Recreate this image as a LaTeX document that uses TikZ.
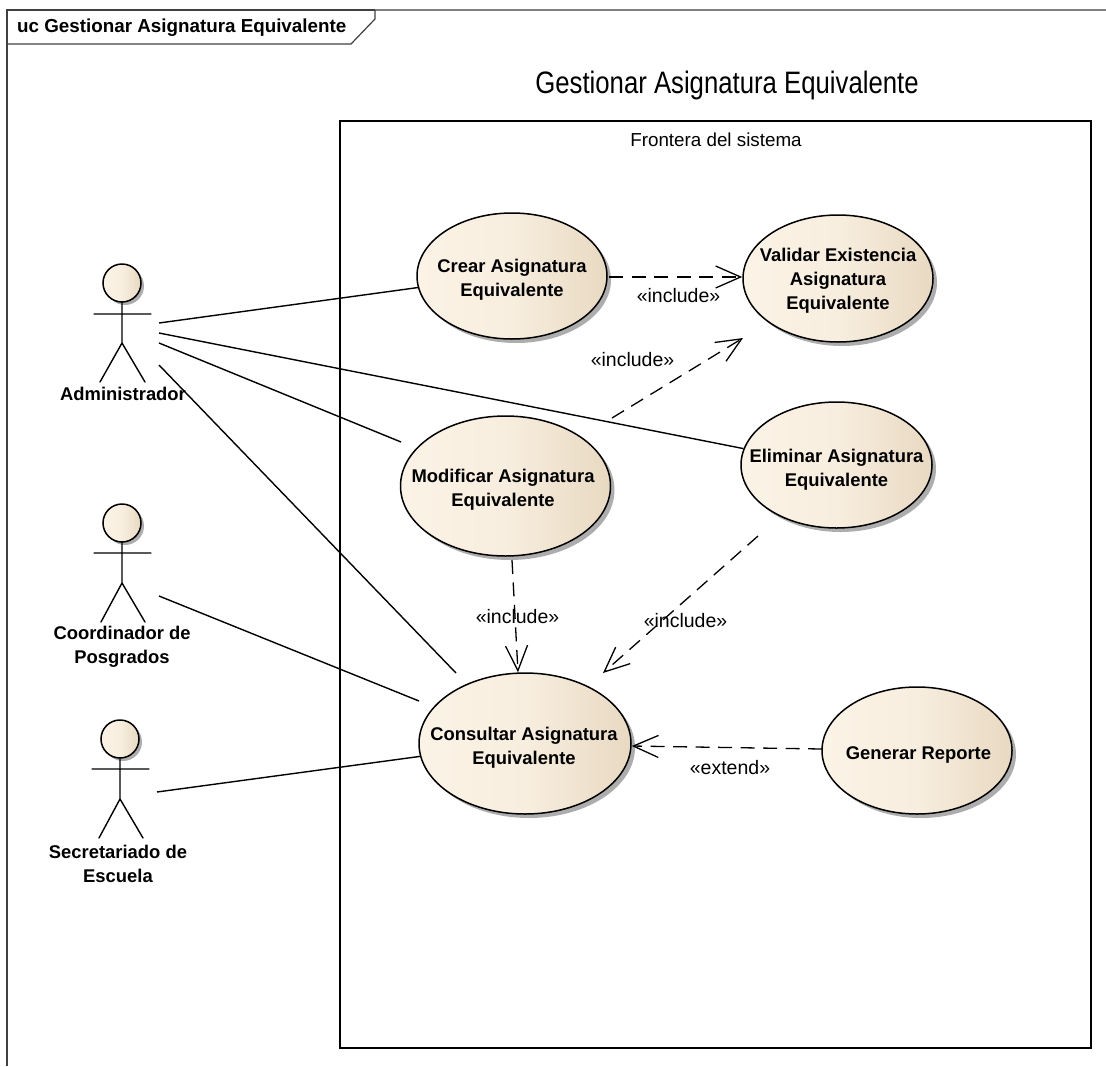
\documentclass[tikz,border=0pt]{standalone}
\usepackage{fontspec}
\setmainfont{Liberation Sans}
\usetikzlibrary{arrows.meta,shapes.geometric,shadows}
\definecolor{ucA}{HTML}{FBF3E6}
\definecolor{ucB}{HTML}{F8EEDF}
\definecolor{ucC}{HTML}{E8D9C1}
\pgfdeclarehorizontalshading{ucfill}{100bp}{color(0bp)=(ucA); color(25bp)=(ucA); color(50bp)=(ucB); color(75bp)=(ucC); color(100bp)=(ucC)}
\tikzset{
  usecase/.style={ellipse,draw=black,line width=1.5pt,shading=ucfill,inner sep=0pt,
    minimum width=#1,
    general shadow={shadow xshift=4pt,shadow yshift=-4pt,fill=black!40,opacity=.8}},
  uclabel/.style={align=center,inner sep=0pt,font=\fontsize{18.4}{24}\selectfont\bfseries},
  head/.style={circle,draw=black,line width=1.5pt,shading=ucfill,minimum size=38pt,inner sep=0pt,
    general shadow={shadow xshift=3pt,shadow yshift=-3pt,fill=black!40,opacity=.8}},
  limb/.style={line width=1.4pt,line cap=round},
  actorname/.style={align=center,font=\fontsize{18.4}{24.5}\selectfont\bfseries,inner sep=0pt},
  assoc/.style={line width=1.4pt},
  dep/.style={line width=1.3pt,dash pattern=on 14pt off 8.5pt,-{Straight Barb[length=25pt,width=22pt,line width=1.3pt]}},
  stereo/.style={font=\fontsize{19.5}{20}\selectfont,inner sep=0pt},
  frameline/.style={draw=black!75,line width=1.2pt}
}
\begin{document}
\begin{tikzpicture}[x=1pt,y=-1pt]
\useasboundingbox (0,0) rectangle (1106,1066);
% diagram frame
\draw[frameline,draw=black!50] (1106,10) -- (375,10);
\draw[frameline] (375,10) -- (7,10) -- (7,1066);
\node[anchor=west,inner sep=0pt,font=\fontsize{18.8}{20}\selectfont\bfseries] (frametitle) at (17,28) {uc Gestionar Asignatura Equivalente};
\draw[frameline] (7,44) -- (351,44) -- (375,19) -- (375,10);
% boundary
\node[draw=black,line width=1.6pt,minimum width=751pt,minimum height=927pt,anchor=north west,inner sep=0pt] (boundary) at (339,120) {};
\node[font=\fontsize{18.8}{20}\selectfont,inner sep=0pt] (boundarytitle) at (716,140) {Frontera del sistema};
\node[font=\fontsize{31}{34}\selectfont,inner sep=0pt] (title) at (727,85) {\addfontfeature{FakeStretch=0.83}Gestionar Asignatura Equivalente};
% use cases
\node[usecase=190pt,minimum height=126pt,label={[uclabel,yshift=-4pt]center:Crear Asignatura\\Equivalente}] (crear) at (512,276) {};
\node[usecase=190pt,minimum height=127pt,label={[uclabel,yshift=-2.5pt]center:Validar Existencia\\Asignatura\\Equivalente}] (validar) at (838,278.5) {};
\node[usecase=191pt,minimum height=126pt,label={[uclabel,yshift=-4.5pt]center:Eliminar Asignatura\\Equivalente}] (eliminar) at (836.5,465) {};
\node[usecase=210pt,minimum height=140pt,label={[uclabel,xshift=-2.5pt,yshift=-3.5pt]center:Modificar Asignatura\\Equivalente}] (modificar) at (505.5,486) {};
\node[usecase=212pt,minimum height=141pt,label={[uclabel,xshift=-1pt,yshift=-4.5pt]center:Consultar Asignatura\\Equivalente}] (consultar) at (525,743.5) {};
\node[usecase=190pt,minimum height=127pt,label={[uclabel,xshift=1.5pt,yshift=-4.5pt]center:Generar Reporte}] (generar) at (917,750.5) {};
% actors
\node[head] (admhead) at (122,283) {};
\draw[limb] (admhead.south) -- (122,343) coordinate (admhip) (94,314) -- (151,314)
  (admhip) -- (100,382) (admhip) -- (145,382);
\node[actorname] (adm) at (123,394) {Administrador};
\node[head] (coohead) at (122,523) {};
\draw[limb] (coohead.south) -- (122,583) coordinate (coohip) (94,553) -- (151,553)
  (coohip) -- (101,622) (coohip) -- (145,622);
\node[actorname] (coo) at (122,647) {Coordinador de\\Posgrados};
\node[head] (sechead) at (120,739) {};
\draw[limb] (sechead.south) -- (120,799) coordinate (sechip) (92,769) -- (149,769)
  (sechip) -- (99,838) (sechip) -- (143,838);
\node[actorname] (sec) at (118,864) {Secretariado de\\Escuela};
% connector free ends
\coordinate (adm1) at (159,323);
\coordinate (adm2) at (159,333);
\coordinate (adm3) at (159,343);
\coordinate (adm4) at (159,365);
\coordinate (coo1) at (159,596);
\coordinate (sec1) at (157,792);
\coordinate (modNW) at (401,442);
\coordinate (conNW) at (456,673);
\coordinate (conW) at (419,701);
% associations
\draw[assoc] (adm1) -- (crear.187);
\draw[assoc] (adm2) -- (eliminar.170);
\draw[assoc] (adm3) -- (modNW);
\draw[assoc] (adm4) -- (conNW);
\draw[assoc] (coo1) -- (conW);
\draw[assoc] (sec1) -- (consultar.187);
% dependencies
\coordinate (c1) at (609,277);
\coordinate (c2) at (612,418);
\coordinate (c3) at (512,560);
\coordinate (c4) at (758,536);
\coordinate (c5) at (822,749);
\coordinate (t2) at (743,338);
\coordinate (t4) at (603,673);
\draw[dep] (c1) -- (validar.west |- c1);
\draw[dep] (c2) -- (t2);
\draw[dep] (c3) -- (consultar.north -| 518,0);
\draw[dep] (c4) -- (t4);
\draw[dep] (c5) -- (consultar.east |- 0,746);
\node[stereo] (l1) at (678.5,296) {«include»};
\node[stereo] (l2) at (632.5,360) {«include»};
\node[stereo] (l3) at (517.5,617) {«include»};
\node[stereo] (l4) at (685.5,621) {«include»};
\node[stereo] (l5) at (730,768) {«extend»};
\end{tikzpicture}
\end{document}
